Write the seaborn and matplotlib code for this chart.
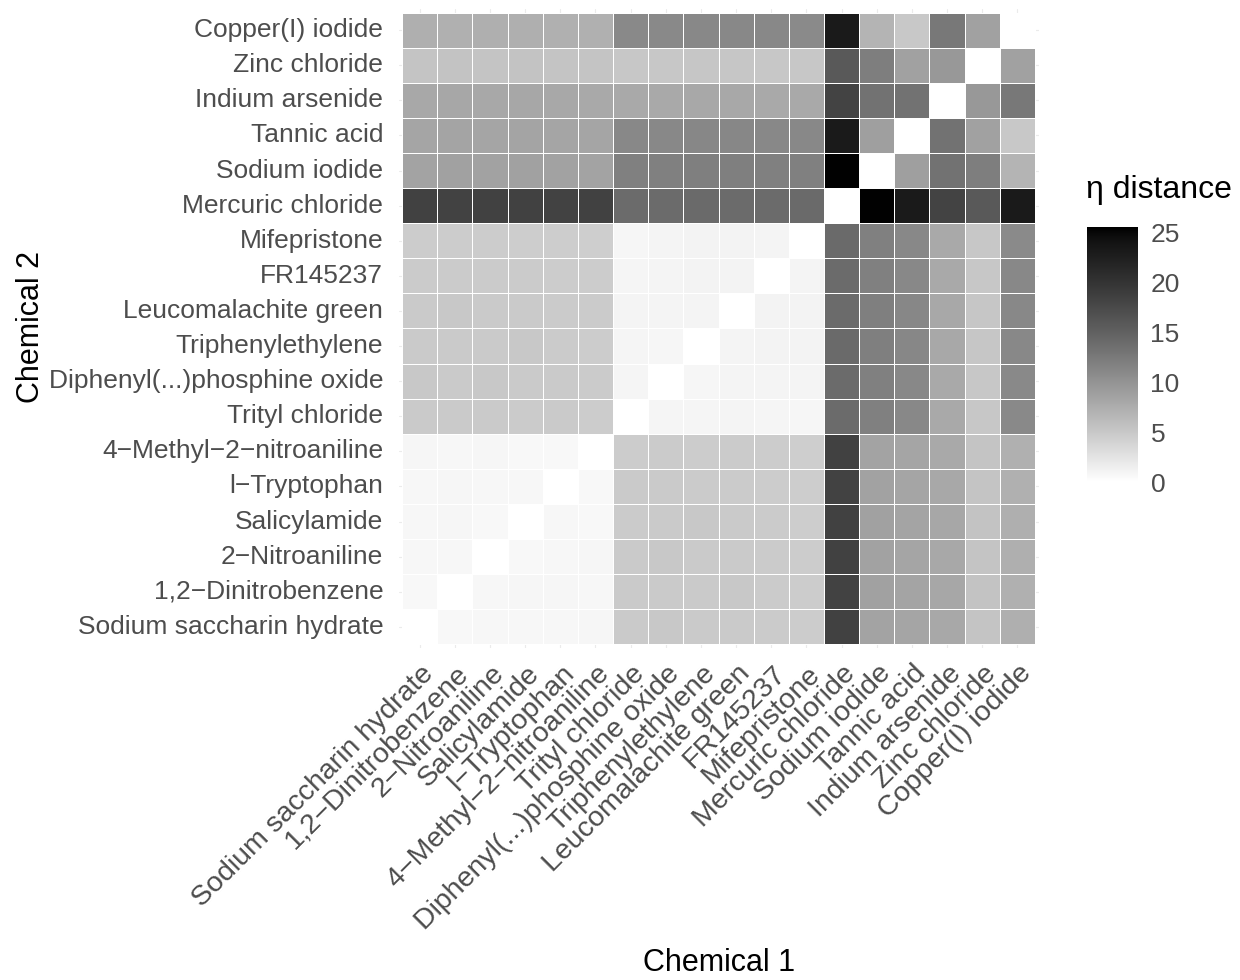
import numpy as np
import pandas as pd
import matplotlib
matplotlib.use("Agg")
import matplotlib.pyplot as plt
import matplotlib.transforms as mtransforms
from matplotlib.colors import ListedColormap
import seaborn as sns

M = "\u2212"
chemicals = [
    "Sodium saccharin hydrate", f"1,2{M}Dinitrobenzene", f"2{M}Nitroaniline",
    "Salicylamide", f"l{M}Tryptophan", f"4{M}Methyl{M}2{M}nitroaniline",
    "Trityl chloride", "Diphenyl(...)phosphine oxide", "Triphenylethylene",
    "Leucomalachite green", "FR145237", "Mifepristone", "Mercuric chloride",
    "Sodium iodide", "Tannic acid", "Indium arsenide", "Zinc chloride",
    "Copper(I) iodide",
]

# eta distance, one row per Chemical 2 (columns in the order of `chemicals`)
row_sodium_saccharin = [0.0, 0.6, 0.7, 0.7, 0.7, 0.8, 4.8, 4.9, 4.8, 4.8, 4.7, 4.6, 18.5, 8.4, 8.2, 7.9, 5.3, 7.3]
row_dinitrobenzene   = [0.6, 0.0, 0.7, 0.8, 0.8, 0.7, 4.8, 4.8, 4.8, 4.9, 4.7, 4.6, 18.4, 8.6, 8.3, 8.0, 5.4, 7.2]
row_nitroaniline     = [0.7, 0.7, 0.0, 0.6, 0.7, 0.8, 4.8, 4.9, 4.8, 4.8, 4.7, 4.6, 18.5, 8.5, 8.2, 7.9, 5.3, 7.3]
row_salicylamide     = [0.7, 0.8, 0.6, 0.0, 0.7, 0.6, 4.7, 4.8, 4.9, 4.8, 4.7, 4.5, 18.5, 8.6, 8.3, 8.0, 5.4, 7.3]
row_tryptophan       = [0.7, 0.8, 0.7, 0.7, 0.0, 0.6, 4.8, 4.8, 4.7, 4.7, 4.6, 4.5, 18.4, 8.5, 8.2, 7.9, 5.3, 7.2]
row_methylnitro      = [0.8, 0.7, 0.8, 0.6, 0.6, 0.0, 4.6, 4.7, 4.6, 4.7, 4.6, 4.4, 18.5, 8.4, 8.2, 7.8, 5.3, 7.2]
row_trityl           = [4.8, 4.8, 4.8, 4.7, 4.8, 4.6, 0.0, 0.9, 0.9, 1.0, 0.9, 0.8, 14.0, 11.8, 11.0, 7.8, 5.0, 10.9]
row_diphenyl         = [4.9, 4.8, 4.9, 4.8, 4.8, 4.7, 0.9, 0.0, 0.8, 1.0, 1.0, 1.0, 14.0, 11.8, 11.0, 7.8, 5.0, 10.9]
row_triphenyl        = [4.8, 4.8, 4.8, 4.9, 4.7, 4.6, 0.9, 0.8, 0.0, 1.0, 1.1, 1.1, 14.1, 11.9, 11.1, 7.9, 5.1, 11.0]
row_leucomalachite   = [4.8, 4.9, 4.8, 4.8, 4.7, 4.7, 1.0, 1.0, 1.0, 0.0, 1.1, 1.1, 14.0, 11.9, 11.1, 7.9, 5.1, 11.0]
row_fr145237         = [4.7, 4.7, 4.7, 4.7, 4.6, 4.6, 0.9, 1.0, 1.1, 1.1, 0.0, 1.0, 14.0, 11.8, 11.0, 7.8, 5.0, 11.0]
row_mifepristone     = [4.6, 4.6, 4.6, 4.5, 4.5, 4.4, 0.8, 1.0, 1.1, 1.1, 1.0, 0.0, 14.1, 11.8, 11.0, 7.8, 5.0, 10.8]
row_mercuric         = [18.5, 18.4, 18.5, 18.5, 18.4, 18.5, 14.0, 14.0, 14.1, 14.0, 14.0, 14.1, 0.0, 25.4, 23.2, 18.3, 15.9, 23.2]
row_sodium_iodide    = [8.4, 8.6, 8.5, 8.6, 8.5, 8.4, 11.8, 11.8, 11.9, 11.9, 11.8, 11.8, 25.4, 0.0, 8.8, 13.3, 12.0, 6.8]
row_tannic           = [8.2, 8.3, 8.2, 8.3, 8.2, 8.2, 11.0, 11.0, 11.1, 11.1, 11.0, 11.0, 23.2, 8.8, 0.0, 13.2, 8.6, 4.9]
row_indium           = [7.9, 8.0, 7.9, 8.0, 7.9, 7.8, 7.8, 7.8, 7.9, 7.9, 7.8, 7.8, 18.3, 13.3, 13.2, 0.0, 9.5, 12.6]
row_zinc             = [5.3, 5.4, 5.3, 5.4, 5.3, 5.3, 5.0, 5.0, 5.1, 5.1, 5.0, 5.0, 15.9, 12.0, 8.6, 9.5, 0.0, 8.6]
row_copper           = [7.3, 7.2, 7.3, 7.3, 7.2, 7.2, 10.9, 10.9, 11.0, 11.0, 11.0, 10.8, 23.2, 6.8, 4.9, 12.6, 8.6, 0.0]

rows = [row_sodium_saccharin, row_dinitrobenzene, row_nitroaniline, row_salicylamide,
        row_tryptophan, row_methylnitro, row_trityl, row_diphenyl, row_triphenyl,
        row_leucomalachite, row_fr145237, row_mifepristone, row_mercuric,
        row_sodium_iodide, row_tannic, row_indium, row_zinc, row_copper]

colorbar_ticks = [0, 5, 10, 15, 20, 25]

df = pd.DataFrame(rows, index=chemicals, columns=chemicals)
df_plot = df.iloc[::-1]  # Copper(I) iodide at the top

sns.set_theme(style="white")
plt.rcParams["font.family"] = ["Liberation Sans", "DejaVu Sans"]

# white -> black gradient interpolated in Lab (like ggplot's scale_fill_gradient)
L = np.linspace(100, 0, 256)
fy = (L + 16) / 116
Y = np.where(L > 8, fy ** 3, L / 903.3)
srgb = np.where(Y <= 0.0031308, 12.92 * Y, 1.055 * np.power(Y, 1 / 2.4) - 0.055)
srgb = np.clip(srgb, 0, 1)
cmap = ListedColormap(np.stack([srgb, srgb, srgb], axis=1))

W, H = 1240, 980
fig = plt.figure(figsize=(W / 100, H / 100), dpi=100)
ax = fig.add_axes([398.5 / W, 1 - 648 / H, 640 / W, 639 / H])
cax = fig.add_axes([1087 / W, 1 - 482 / H, 51 / W, 255 / H])

n = len(chemicals)
for i in range(n):
    ax.axvline(i + 0.5, color="#EBEBEB", lw=0.8, zorder=0)
    ax.axhline(i + 0.5, color="#EBEBEB", lw=0.8, zorder=0)

sns.heatmap(df_plot, ax=ax, cbar_ax=cax, cmap=cmap, vmin=0, vmax=25.5,
            linewidths=0.5, linecolor="white")

ax.set_xlim(-0.1, n + 0.1)
ax.set_ylim(n + 0.1, -0.1)
for s in ax.spines.values():
    s.set_visible(False)

txt_col = "#4D4D4D"
ax.set_xticks(np.arange(n) + 0.5)
ax.set_xticklabels(list(df_plot.columns), rotation=45, ha="right", va="top",
                   rotation_mode="anchor", fontsize=20.5, color=txt_col)
ax.set_yticks(np.arange(n) + 0.5)
ax.set_yticklabels(list(df_plot.index), rotation=0, fontsize=19, color=txt_col)
ax.tick_params(axis="both", length=0)
ax.tick_params(axis="y", pad=11)
ax.tick_params(axis="x", pad=9)
offset = mtransforms.ScaledTranslation(1 / 100, 0, fig.dpi_scale_trans)
for lab in ax.get_xticklabels():
    lab.set_transform(lab.get_transform() + offset)
ax.set_xlabel("")
ax.set_ylabel("")

cbar = ax.collections[0].colorbar
cbar.outline.set_visible(False)
cbar.set_ticks(colorbar_ticks)
cbar.set_ticklabels([str(t) for t in colorbar_ticks])
cax.tick_params(axis="y", direction="in", length=7, width=1, color="white",
                left=True, right=True, labelleft=False, labelright=True,
                labelsize=19, labelcolor=txt_col, pad=9)

fig.text(1086 / W, 1 - 190 / H, "\u03b7 distance", fontsize=23, ha="left",
         va="center", color="black")
fig.text(31 / W, 1 - 327 / H, "Chemical 2", fontsize=22, rotation=90,
         ha="center", va="center", color="black")
fig.text(719 / W, 1 - 963 / H, "Chemical 1", fontsize=22, ha="center",
         va="center", color="black")

fig.savefig("out.png", dpi=100, facecolor="white")
